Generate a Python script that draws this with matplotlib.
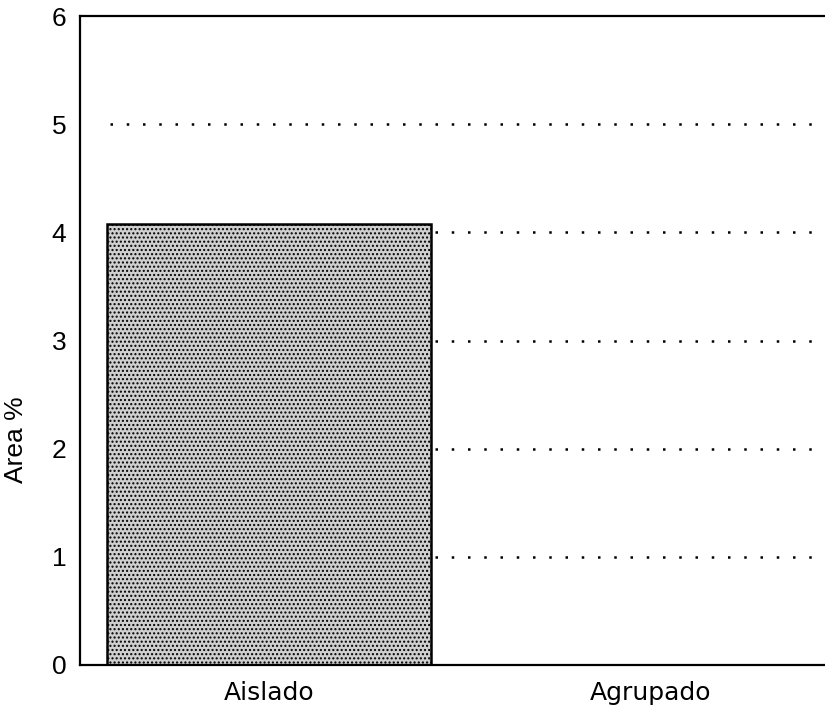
import numpy as np
import matplotlib
matplotlib.use("Agg")
import matplotlib.pyplot as plt
from matplotlib import font_manager

# values
categories = ["Aislado", "Agrupado"]
area_pct = [4.08, 0.0]
yticks = [0, 1, 2, 3, 4, 5, 6]

names = {f.name for f in font_manager.fontManager.ttflist}
narrow = "Liberation Sans Narrow" if "Liberation Sans Narrow" in names else "Liberation Sans"

plt.rcParams["hatch.color"] = "#7a7a7a"
fig = plt.figure(figsize=(8.25, 7.08), dpi=100)
ax = fig.add_axes([0.097, 0.061, 0.905, 0.916])

x = np.arange(len(categories))
ax.bar(x, area_pct, width=0.85, color="#cfcfcf", edgecolor="black",
       linewidth=1.8, hatch="....", zorder=2)

# dotted horizontal grid, starts a bit in from the left spine
ax.set_axisbelow(True)
for y in yticks[1:-1]:
    ax.axhline(y, xmin=0.04, color="black", linestyle=(0, (1, 5.5)),
               linewidth=1.8, zorder=1)

ax.set_xlim(-0.495, 1.46)
ax.set_ylim(0, 6)
ax.set_yticks(yticks)
ax.set_yticklabels([str(v) for v in yticks], fontsize=19, family="Liberation Sans")
ax.set_xticks(x)
ax.set_xticklabels(categories, fontsize=18, family="DejaVu Sans")
ax.tick_params(axis="both", length=0)
ax.tick_params(axis="y", pad=10)
ax.tick_params(axis="x", pad=12)

for s in ["left", "top", "bottom"]:
    ax.spines[s].set_linewidth(1.6)
ax.spines["right"].set_visible(False)

ax.set_ylabel("Area %", fontsize=19, family=narrow)
ax.yaxis.set_label_coords(-0.07, 0.347)

plt.savefig("out.png", dpi=100)
